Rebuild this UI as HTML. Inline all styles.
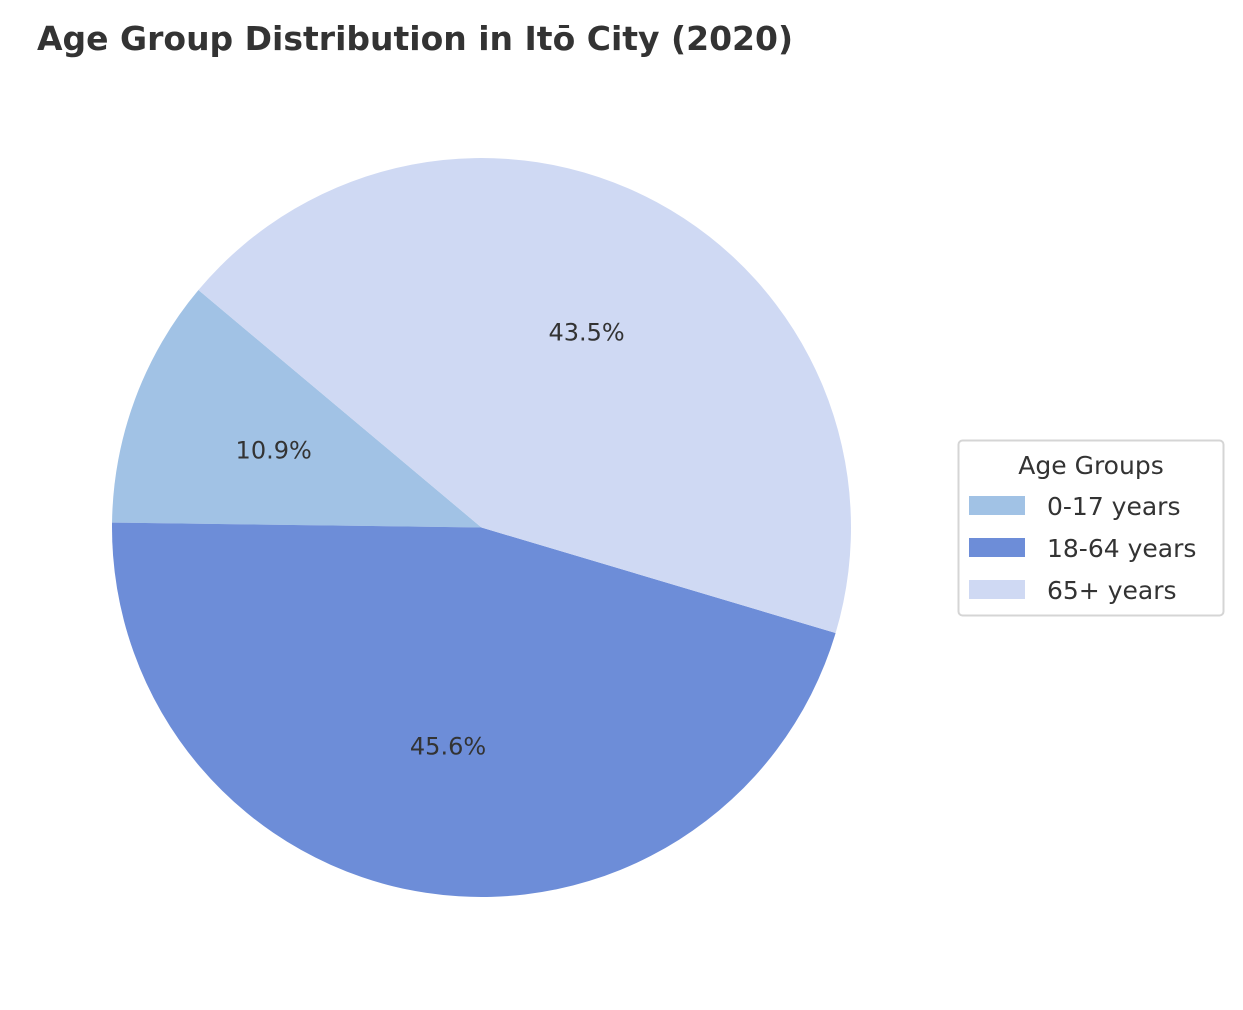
<!DOCTYPE html>
<html><head><meta charset="utf-8"><style>
html,body{margin:0;padding:0;background:#fff;}
svg{display:block;font-family:"DejaVu Sans","Liberation Sans",sans-serif;}
</style></head><body>
<svg id="chart" width="1243" height="1010" viewBox="0 0 1243 1010" xmlns="http://www.w3.org/2000/svg">
<text x="37" y="50" font-size="33" font-weight="bold" fill="#333">Age Group Distribution in Itō City (2020)</text>
<g id="slices"></g>
<g id="legend">
<rect x="958.5" y="440.5" width="265" height="175" rx="4" fill="#fff" stroke="#d5d5d5" stroke-width="2"/>
<text x="1091" y="474" font-size="25" fill="#333" text-anchor="middle">Age Groups</text>
</g>
</svg>
<script>
const categories = ["0-17 years", "18-64 years", "65+ years"];
const values = [10.9, 45.6, 43.5];
const colors = ["#a1c2e5", "#6d8dd8", "#cfd9f3"];
const startAngle = 140;
const cx = 481.5, cy = 527.5, r = 369.5;
const NS = "http://www.w3.org/2000/svg";
const g = document.getElementById('slices');
const total = values.reduce((a,b)=>a+b,0);
let a = startAngle;
function pt(deg, rr){const t=deg*Math.PI/180;return [cx+rr*Math.cos(t), cy-rr*Math.sin(t)];}
values.forEach((v,i)=>{
  const sweep = v/total*360;
  const a2 = a+sweep;
  const p1 = pt(a,r), p2 = pt(a2,r);
  const large = sweep>180?1:0;
  const path = document.createElementNS(NS,'path');
  path.setAttribute('d',`M${cx},${cy} L${p1[0]},${p1[1]} A${r},${r} 0 ${large} 0 ${p2[0]},${p2[1]} Z`);
  path.setAttribute('fill',colors[i]);
  
  
  g.appendChild(path);
  const lp = pt(a+sweep/2, r*0.6);
  const t = document.createElementNS(NS,'text');
  t.setAttribute('x',lp[0]); t.setAttribute('y',lp[1]+8);
  t.setAttribute('text-anchor','middle'); t.setAttribute('font-size','24'); t.setAttribute('fill','#333');
  t.textContent = v.toFixed(1)+'%';
  
  
  g.appendChild(t);
  a = a2;
});
const lg = document.getElementById('legend');
categories.forEach((c,i)=>{
  const y = 496 + i*42;
  const rc = document.createElementNS(NS,'rect');
  rc.setAttribute('x',969); rc.setAttribute('y',y); rc.setAttribute('width',56); rc.setAttribute('height',19);
  rc.setAttribute('fill',colors[i]);
  
  
  lg.appendChild(rc);
  const t = document.createElementNS(NS,'text');
  t.setAttribute('x',1047); t.setAttribute('y',y+19);
  t.setAttribute('font-size','25'); t.setAttribute('fill','#333');
  t.textContent = c;
  
  
  lg.appendChild(t);
});
</script>
</body></html>
